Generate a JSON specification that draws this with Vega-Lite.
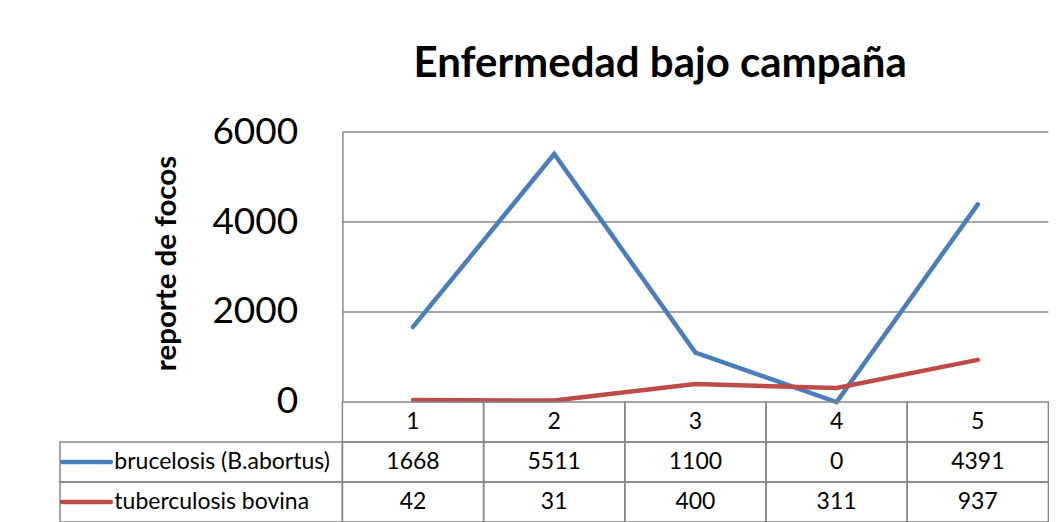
{
  "$schema": "https://vega.github.io/schema/vega-lite/v6.json",
  "background": "white",
  "padding": {"left": 59, "top": 43, "right": 0, "bottom": 0},
  "title": {"text": "Enfermedad bajo campaña", "font": "Lato", "fontSize": 42, "fontWeight": "bold", "color": "black", "anchor": "middle", "dx": 106, "offset": 27},
  "spacing": 0,
  "bounds": "flush",
  "config": {"view": {"stroke": null}, "font": "Lato"},
  "resolve": {"scale": {"x": "independent", "y": "independent", "color": "independent"}},
  "datasets": {
    "focos": [
      {"periodo": "1", "serie": "brucelosis (B.abortus)", "valor": 1668},
      {"periodo": "2", "serie": "brucelosis (B.abortus)", "valor": 5511},
      {"periodo": "3", "serie": "brucelosis (B.abortus)", "valor": 1100},
      {"periodo": "4", "serie": "brucelosis (B.abortus)", "valor": 0},
      {"periodo": "5", "serie": "brucelosis (B.abortus)", "valor": 4391},
      {"periodo": "1", "serie": "tuberculosis bovina", "valor": 42},
      {"periodo": "2", "serie": "tuberculosis bovina", "valor": 31},
      {"periodo": "3", "serie": "tuberculosis bovina", "valor": 400},
      {"periodo": "4", "serie": "tuberculosis bovina", "valor": 311},
      {"periodo": "5", "serie": "tuberculosis bovina", "valor": 937}
    ]
  },
  "vconcat": [
    {
      "width": 988.4,
      "height": 270,
      "encoding": {
        "y": {
          "field": "valor", "type": "quantitative",
          "scale": {"domain": [0, 6000], "nice": false, "zero": true},
          "axis": {
            "values": [0, 2000, 4000, 6000], "format": "d", "grid": false, "ticks": false, "tickSize": 0,
            "domain": true, "domainColor": "#878787", "domainWidth": 1.5,
            "offset": -282.4, "labelFont": "Lato", "labelFontSize": 37, "labelColor": "black",
            "labelPadding": 44.7, "labelFlush": false, "labelOverlap": false,
            "title": "reporte de focos", "titleFont": "Lato", "titleFontSize": 29.5, "titleFontWeight": "bold",
            "titleColor": "black", "titlePadding": 30, "titleY": 131
          }
        }
      },
      "layer": [
        {
          "data": {"values": [{"valor": 2000}, {"valor": 4000}, {"valor": 6000}]},
          "mark": {"type": "rule", "color": "#878787", "strokeWidth": 1.5},
          "encoding": {
            "x": {"datum": "1", "type": "nominal", "bandPosition": 0, "scale": {"type": "band", "domain": ["L1", "L2", "1", "2", "3", "4", "5"], "paddingInner": 0, "paddingOuter": 0}, "axis": null},
            "x2": {"datum": "5", "bandPosition": 1}
          }
        },
        {
          "data": {"name": "focos"},
          "mark": {"type": "line", "strokeWidth": 4.5, "strokeCap": "round", "strokeJoin": "miter"},
          "encoding": {
            "x": {"field": "periodo", "type": "nominal", "scale": {"type": "band", "domain": ["L1", "L2", "1", "2", "3", "4", "5"], "paddingInner": 0, "paddingOuter": 0}, "axis": null},
            "color": {"field": "serie", "type": "nominal", "scale": {"domain": ["brucelosis (B.abortus)", "tuberculosis bovina"], "range": ["#4A7EBB", "#BE4B48"]}, "legend": null}
          }
        }
      ]
    },
    {
      "width": 988.4,
      "height": 120,
      "data": {"name": "focos"},
      "encoding": {
        "x": {"field": "periodo", "type": "nominal", "scale": {"type": "band", "domain": ["L1", "L2", "1", "2", "3", "4", "5"], "paddingInner": 0, "paddingOuter": 0}, "axis": null},
        "y": {"field": "serie", "type": "nominal", "scale": {"type": "band", "domain": ["periodo", "brucelosis (B.abortus)", "tuberculosis bovina"], "paddingInner": 0, "paddingOuter": 0}, "axis": null}
      },
      "layer": [
        {
          "transform": [{"filter": "datum.serie === 'brucelosis (B.abortus)'"}],
          "mark": {"type": "rect", "fill": "transparent", "stroke": "#878787", "strokeWidth": 1.5},
          "encoding": {"y": {"datum": "periodo", "type": "nominal"}}
        },
        {
          "transform": [{"filter": "datum.serie === 'brucelosis (B.abortus)'"}],
          "mark": {"type": "text", "font": "Lato", "fontSize": 23, "color": "black", "align": "center", "baseline": "middle"},
          "encoding": {"y": {"datum": "periodo", "type": "nominal"}, "text": {"field": "periodo", "type": "nominal"}}
        },
        {
          "mark": {"type": "rect", "fill": "transparent", "stroke": "#878787", "strokeWidth": 1.5}
        },
        {
          "mark": {"type": "text", "font": "Lato", "fontSize": 23, "color": "black", "align": "center", "baseline": "middle"},
          "encoding": {"text": {"field": "valor", "type": "quantitative", "format": "d"}}
        },
        {
          "transform": [{"filter": "datum.periodo === '1'"}],
          "mark": {"type": "rect", "fill": "transparent", "stroke": "#878787", "strokeWidth": 1.5},
          "encoding": {
            "x": {"datum": "L1", "type": "nominal", "bandPosition": 0},
            "x2": {"datum": "L2", "bandPosition": 1}
          }
        },
        {
          "transform": [{"filter": "datum.periodo === '1'"}],
          "mark": {"type": "rule", "strokeWidth": 4.5, "strokeCap": "round"},
          "encoding": {
            "x": {"datum": "L1", "type": "nominal", "bandPosition": 0.015},
            "x2": {"datum": "L1", "bandPosition": 0.36},
            "color": {"field": "serie", "type": "nominal", "scale": {"domain": ["brucelosis (B.abortus)", "tuberculosis bovina"], "range": ["#4A7EBB", "#BE4B48"]}, "legend": null}
          }
        },
        {
          "transform": [{"filter": "datum.periodo === '1'"}],
          "mark": {"type": "text", "font": "Lato", "fontSize": 23, "color": "black", "align": "left", "baseline": "middle"},
          "encoding": {
            "x": {"datum": "L1", "type": "nominal", "bandPosition": 0.385},
            "text": {"field": "serie", "type": "nominal"}
          }
        }
      ]
    }
  ]
}
